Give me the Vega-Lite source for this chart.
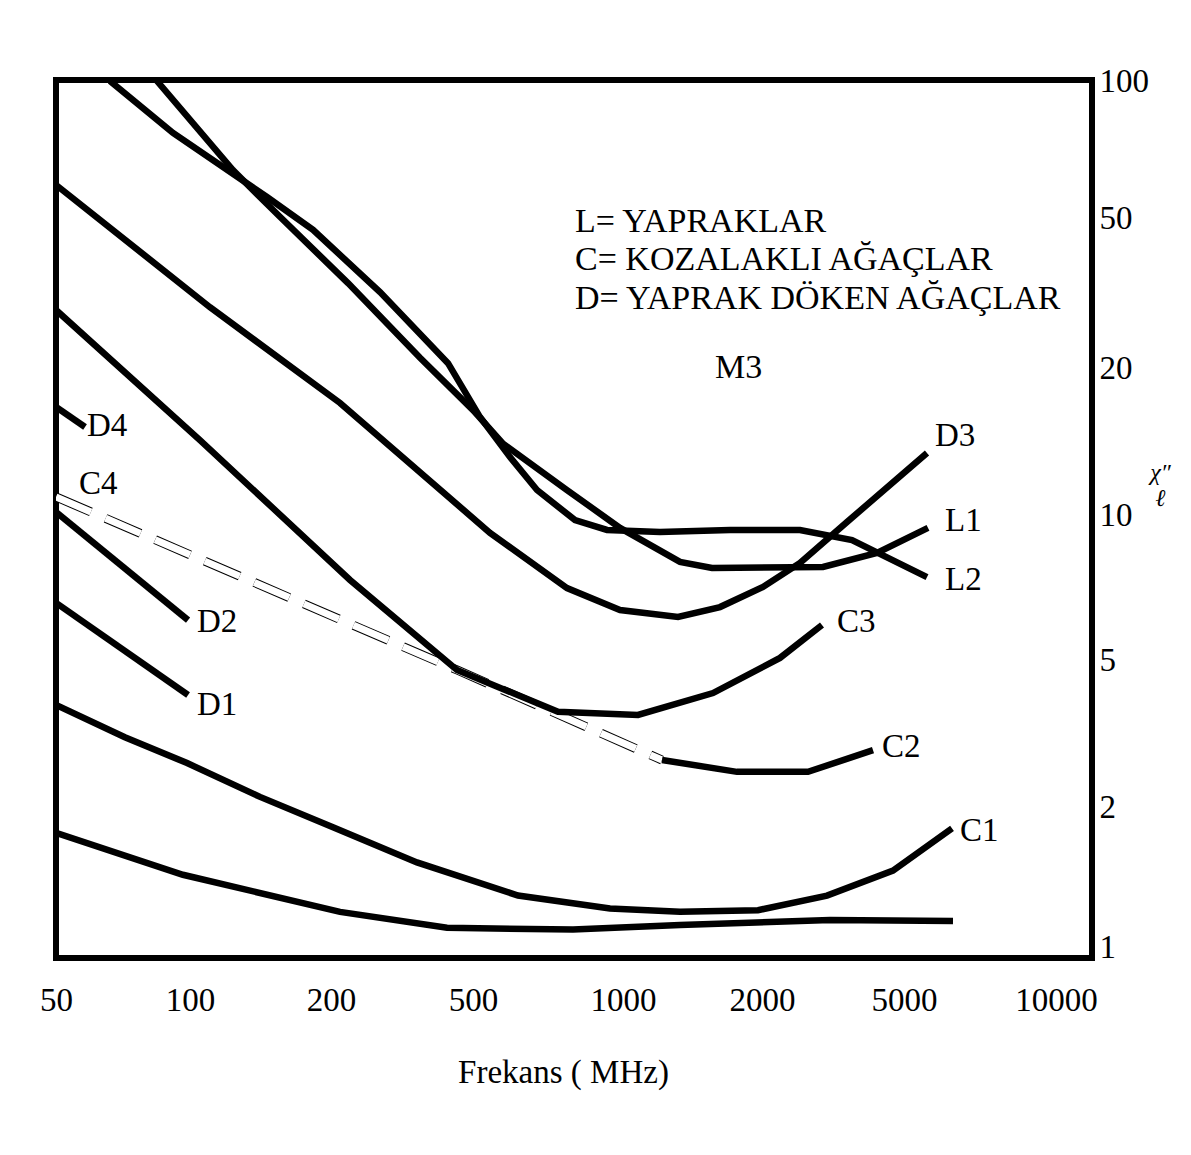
{
  "$schema": "https://vega.github.io/schema/vega-lite/v6.json",
  "width": 1036,
  "height": 878,
  "autosize": "none",
  "padding": {"left": 56, "top": 80, "right": 99, "bottom": 197},
  "background": "white",
  "config": {
    "view": {"stroke": "black", "strokeWidth": 6},
    "font": "Liberation Serif"
  },
  "datasets": {
    "curves": [
      {"series": "L1", "f": 84.3, "v": 100},
      {"series": "L1", "f": 123.5, "v": 63.7},
      {"series": "L1", "f": 155.6, "v": 50.3},
      {"series": "L1", "f": 223.2, "v": 33.6},
      {"series": "L1", "f": 355.2, "v": 21.3},
      {"series": "L1", "f": 500, "v": 16.4},
      {"series": "L1", "f": 574.3, "v": 14.0},
      {"series": "L1", "f": 772, "v": 11.25},
      {"series": "L1", "f": 986.3, "v": 9.4},
      {"series": "L1", "f": 1328.7, "v": 7.99},
      {"series": "L1", "f": 1558.6, "v": 7.76},
      {"series": "L1", "f": 2964.6, "v": 7.8},
      {"series": "L1", "f": 4200.8, "v": 8.34},
      {"series": "L1", "f": 5578, "v": 9.4},

      {"series": "L2", "f": 66.1, "v": 100},
      {"series": "L2", "f": 91.6, "v": 76.9},
      {"series": "L2", "f": 146, "v": 55.6},
      {"series": "L2", "f": 183.1, "v": 46.5},
      {"series": "L2", "f": 274.4, "v": 31.8},
      {"series": "L2", "f": 425.5, "v": 20.6},
      {"series": "L2", "f": 516.4, "v": 15.87},
      {"series": "L2", "f": 593.2, "v": 13.14},
      {"series": "L2", "f": 672.1, "v": 11.25},
      {"series": "L2", "f": 801.1, "v": 9.76},
      {"series": "L2", "f": 928.8, "v": 9.31},
      {"series": "L2", "f": 1202.6, "v": 9.22},
      {"series": "L2", "f": 1705, "v": 9.31},
      {"series": "L2", "f": 2555.8, "v": 9.31},
      {"series": "L2", "f": 3574.8, "v": 8.87},
      {"series": "L2", "f": 5553, "v": 7.43},

      {"series": "D3", "f": 50, "v": 59.1},
      {"series": "D3", "f": 110.3, "v": 29.0},
      {"series": "D3", "f": 212, "v": 16.96},
      {"series": "D3", "f": 540.9, "v": 9.18},
      {"series": "D3", "f": 772, "v": 7.05},
      {"series": "D3", "f": 986.3, "v": 6.35},
      {"series": "D3", "f": 1315.6, "v": 6.14},
      {"series": "D3", "f": 1622, "v": 6.44},
      {"series": "D3", "f": 2012.9, "v": 7.09},
      {"series": "D3", "f": 2555.8, "v": 7.95},
      {"series": "D3", "f": 3461.6, "v": 9.67},
      {"series": "D3", "f": 5553, "v": 13.4},

      {"series": "C3", "f": 50, "v": 28.5},
      {"series": "C3", "f": 105, "v": 14.24},
      {"series": "C3", "f": 226.1, "v": 7.33},
      {"series": "C3", "f": 450.9, "v": 4.7},
      {"series": "C3", "f": 740.6, "v": 3.62},
      {"series": "C3", "f": 1077.7, "v": 3.55},
      {"series": "C3", "f": 1566.4, "v": 4.07},
      {"series": "C3", "f": 2246.3, "v": 5.05},
      {"series": "C3", "f": 2945.6, "v": 5.91},

      {"series": "C2", "f": 1214.7, "v": 2.68},
      {"series": "C2", "f": 1765.5, "v": 2.49},
      {"series": "C2", "f": 2691.2, "v": 2.49},
      {"series": "C2", "f": 4093.8, "v": 2.85},

      {"series": "D4", "f": 50, "v": 16.64},
      {"series": "D4", "f": 58.1, "v": 15.14},

      {"series": "D2", "f": 50, "v": 10.14},
      {"series": "D2", "f": 99, "v": 6.05},

      {"series": "D1", "f": 50, "v": 6.57},
      {"series": "D1", "f": 99, "v": 4.02},

      {"series": "C1", "f": 50, "v": 3.78},
      {"series": "C1", "f": 71.4, "v": 3.09},
      {"series": "C1", "f": 98.5, "v": 2.63},
      {"series": "C1", "f": 141.1, "v": 2.13},
      {"series": "C1", "f": 202.6, "v": 1.81},
      {"series": "C1", "f": 348.3, "v": 1.52},
      {"series": "C1", "f": 615.6, "v": 1.29},
      {"series": "C1", "f": 941.7, "v": 1.21},
      {"series": "C1", "f": 1328.7, "v": 1.19},
      {"series": "C1", "f": 1960.5, "v": 1.2},
      {"series": "C1", "f": 3042, "v": 1.29},
      {"series": "C1", "f": 4657.4, "v": 1.46},
      {"series": "C1", "f": 6224, "v": 1.8},

      {"series": "unlabeled", "f": 50, "v": 1.76},
      {"series": "unlabeled", "f": 96.4, "v": 1.43},
      {"series": "unlabeled", "f": 212, "v": 1.19},
      {"series": "unlabeled", "f": 422.8, "v": 1.1},
      {"series": "unlabeled", "f": 793.7, "v": 1.09},
      {"series": "unlabeled", "f": 1328.7, "v": 1.115},
      {"series": "unlabeled", "f": 3101.6, "v": 1.143},
      {"series": "unlabeled", "f": 6252, "v": 1.137}
    ],
    "dashed": [
      {"series": "C4", "f": 50, "v": 10.89},
      {"series": "C4", "f": 450.9, "v": 4.7},
      {"series": "C4", "f": 1214.7, "v": 2.68}
    ],
    "labels": [
      {"label": "D4", "f": 58.7, "v": 15.21},
      {"label": "C4", "f": 56.3, "v": 11.57},
      {"label": "D2", "f": 103.5, "v": 6.0},
      {"label": "D1", "f": 103.5, "v": 3.78},
      {"label": "D3", "f": 5759, "v": 14.51},
      {"label": "L1", "f": 6028, "v": 9.72},
      {"label": "L2", "f": 6028, "v": 7.33},
      {"label": "C3", "f": 3245, "v": 6.0},
      {"label": "C2", "f": 4338, "v": 2.91},
      {"label": "C1", "f": 6455, "v": 1.78}
    ],
    "notes": [
      {"label": "L= YAPRAKLAR", "f": 801.1, "v": 48.8},
      {"label": "C= KOZALAKLI AĞAÇLAR", "f": 801.1, "v": 38.7},
      {"label": "D= YAPRAK DÖKEN AĞAÇLAR", "f": 801.1, "v": 30.5},
      {"label": "M3", "f": 1582, "v": 20}
    ]
  },
  "encoding": {
    "x": {
      "field": "f",
      "type": "quantitative",
      "scale": {
        "type": "log",
        "domain": [50, 100, 200, 500, 1000, 2000, 5000, 10000],
        "range": [0, 134, 275, 417, 567, 706, 848, 1000],
        "nice": false,
        "clamp": false
      },
      "axis": {
        "orient": "bottom",
        "values": [50, 100, 200, 500, 1000, 2000, 5000, 10000],
        "format": "d",
        "ticks": false,
        "tickSize": 0,
        "domain": false,
        "grid": false,
        "labelFont": "Liberation Serif",
        "labelFontSize": 33,
        "labelColor": "black",
        "labelPadding": 26,
        "labelOverlap": false,
        "labelFlush": false,
        "title": "Frekans ( MHz)",
        "titleFont": "Liberation Serif",
        "titleFontSize": 33,
        "titleFontWeight": "normal",
        "titleColor": "black",
        "titleX": 507,
        "titleY": 98,
        "titleAlign": "center",
        "titleBaseline": "top"
      }
    },
    "y": {
      "field": "v",
      "type": "quantitative",
      "scale": {
        "type": "log",
        "domain": [1, 2, 5, 10, 20, 50, 100],
        "range": [867, 727, 580, 435, 288, 138, 1],
        "nice": false,
        "clamp": false
      },
      "axis": {
        "orient": "right",
        "values": [1, 2, 5, 10, 20, 50, 100],
        "format": "d",
        "ticks": false,
        "tickSize": 0,
        "domain": false,
        "grid": false,
        "labelFont": "Liberation Serif",
        "labelFontSize": 33,
        "labelColor": "black",
        "labelPadding": 7,
        "labelOverlap": false,
        "labelFlush": false,
        "labelAlign": "left",
        "labelBaseline": "middle",
        "title": ["χ″", "  ℓ"],
        "titleFont": "Liberation Serif",
        "titleFontStyle": "italic",
        "titleFontWeight": "normal",
        "titleFontSize": 24,
        "titleLineHeight": 26,
        "titleColor": "black",
        "titleAngle": 0,
        "titleX": 68,
        "titleY": 392,
        "titleAlign": "center",
        "titleBaseline": "middle"
      }
    }
  },
  "layer": [
    {
      "data": {"name": "dashed"},
      "mark": {"type": "line", "stroke": "black", "strokeWidth": 9, "strokeDash": [38, 16], "clip": true},
      "encoding": {"detail": {"field": "series", "type": "nominal"}}
    },
    {
      "data": {"name": "dashed"},
      "mark": {"type": "line", "stroke": "white", "strokeWidth": 7, "strokeDash": [38, 16], "clip": true},
      "encoding": {"detail": {"field": "series", "type": "nominal"}}
    },
    {
      "data": {"name": "curves"},
      "mark": {"type": "line", "stroke": "black", "strokeWidth": 6.5, "clip": true},
      "encoding": {"detail": {"field": "series", "type": "nominal"}}
    },
    {
      "data": {"name": "labels"},
      "mark": {"type": "text", "align": "left", "baseline": "middle", "font": "Liberation Serif", "fontSize": 33, "color": "black"},
      "encoding": {"text": {"field": "label", "type": "nominal"}}
    },
    {
      "data": {"name": "notes"},
      "mark": {"type": "text", "align": "left", "baseline": "middle", "font": "Liberation Serif", "fontSize": 34, "color": "black"},
      "encoding": {"text": {"field": "label", "type": "nominal"}}
    }
  ]
}
